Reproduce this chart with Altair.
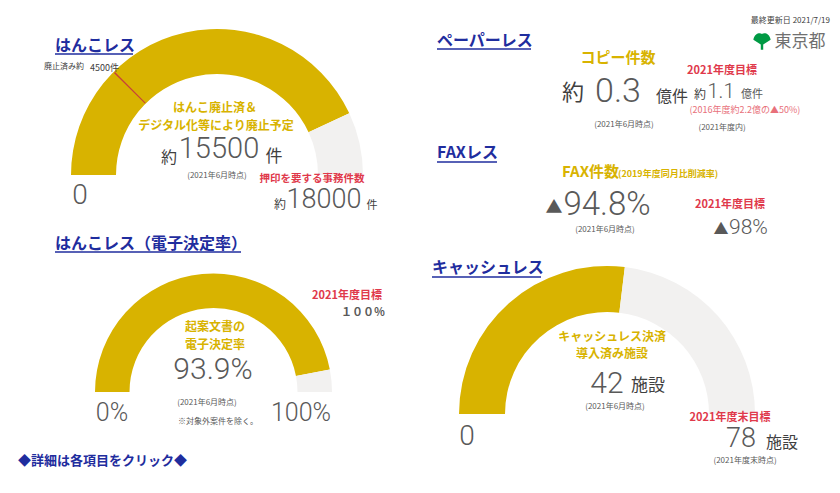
import math
import altair as alt
import pandas as pd

# ---------------- values ----------------
HANKO_VALUES = [15500, 18000]        # abolished+planned, total needing seals
HANKO_ABOLISHED = 4500
PAPER_COPIES = [0.3, 1.1]            # current, FY2021 target (億件)
PAPER_BASE_2016 = 2.2
PAPER_CUT = 50
FAX_REDUCTION = [94.8, 98]           # current, target (%)
E_DECISION = [93.9, 100]             # current, target (%)
CASHLESS = [42, 78]                  # current, target (facilities)
UPDATED = "2021/7/19"

# ---------------- style ----------------
GOLD = "#D8B300"
GREY = "#F2F1F0"
BLUE = "#1F2D9E"
RED = "#E0394B"
PINK = "#E8707A"
DARK = "#595959"
TXT = "#404040"
CJK = "Noto Sans CJK JP"
NUM = "Roboto"

xs = alt.Scale(domain=[8, 832], range=[0, 824])
ys = alt.Scale(domain=[8, 485], range=[0, 477])

layers = []

# ---------------- gauges ----------------
def gauge(value, vmax, cx, cy, ro, ri, marks=()):
    df = pd.DataFrame({
        "start": [0, value] + [m - vmax / 600 for m in marks],
        "end": [value, vmax] + [m + vmax / 600 for m in marks],
        "color": [GOLD, GREY] + ["#C8403A" for _ in marks],
        "cx": [cx] * (2 + len(marks)),
        "cy": [cy] * (2 + len(marks)),
    })
    return alt.Chart(df).mark_arc(radius=ro, radius2=ri).encode(
        x=alt.X("cx:Q", scale=xs, axis=None),
        y=alt.Y("cy:Q", scale=ys, axis=None),
        theta=alt.Theta("start:Q", scale=alt.Scale(domain=[0, vmax], range=[-math.pi / 2, math.pi / 2])),
        theta2="end:Q",
        color=alt.Color("color:N", scale=None),
        order=alt.Order("start:Q"),
    )

layers.append(gauge(HANKO_VALUES[0], HANKO_VALUES[1], 217, 175, 146, 101))
layers.append(gauge(E_DECISION[0], E_DECISION[1], 213.5, 392, 118.5, 84))
layers.append(gauge(CASHLESS[0], CASHLESS[1], 607, 414, 148, 102))
layers.append(gauge(HANKO_ABOLISHED, HANKO_VALUES[1], 217, 175, 145, 101.5, marks=[HANKO_ABOLISHED]).transform_filter("datum.color == '#C8403A'"))

# ---------------- underlines ----------------
ul = pd.DataFrame({
    "x": [55, 437, 437, 55, 432],
    "x2": [133, 531, 497, 241, 541],
    "y": [54, 49, 162, 252, 277],
})
layers.append(alt.Chart(ul).mark_rule(color=BLUE, strokeWidth=1.5).encode(
    x=alt.X("x:Q", scale=xs, axis=None), x2="x2:Q", y=alt.Y("y:Q", scale=ys, axis=None)))

# ---------------- logo leaf ----------------
leaf = pd.DataFrame({"x": [762], "y": [41]})
layers.append(alt.Chart(leaf).mark_point(
    shape="M-1,-0.15 C-0.85,-0.95 -0.2,-1 0,-0.8 C0.2,-1 0.85,-0.95 1,-0.15 L0.14,0.4 L0.14,1 L-0.14,1 L-0.14,0.4 Z",
    filled=True, color="#009A44", opacity=1, size=300).encode(
    x=alt.X("x:Q", scale=xs, axis=None), y=alt.Y("y:Q", scale=ys, axis=None)))

# ---------------- texts ----------------
T = []
def t(text, x, y, size, color=DARK, font=CJK, weight="normal", align="center"):
    T.append(dict(text=text, x=x, y=y, size=size, color=color, font=font, weight=weight, align=align))

# titles
t("はんこレス", 55, 46, 16, BLUE, weight="bold", align="left")
t("ペーパーレス", 437, 41, 16, BLUE, weight="bold", align="left")
t("FAXレス", 437, 153, 16, BLUE, weight="bold", align="left")
t("はんこレス（電子決定率）", 55, 244, 16, BLUE, weight="bold", align="left")
t("キャッシュレス", 432, 268, 16, BLUE, weight="bold", align="left")
t("◆詳細は各項目をクリック◆", 18, 461, 13, BLUE, weight="bold", align="left")

# header
t(f"最終更新日 {UPDATED}", 830, 21, 8, TXT, align="right")
t("東京都", 800, 42, 17, "#707070")

# hanko gauge
t("廃止済み約", 44, 67, 8, TXT, align="left")
t(f"{HANKO_ABOLISHED}件", 90, 68, 9, TXT, align="left")
t("はんこ廃止済＆", 215, 108, 12, GOLD, weight="bold")
t("デジタル化等により廃止予定", 216, 126, 12, GOLD, weight="bold")
t("約", 169, 158, 16, TXT)
t(f"{HANKO_VALUES[0]}", 219, 149, 29, DARK, font=NUM, weight=300)
t("件", 274, 157, 17, TXT)
t("(2021年6月時点)", 217, 176, 8, DARK)
t("0", 80, 196, 28, DARK, font=NUM, weight=300)
t("押印を要する事務件数", 312, 179, 10.5, RED, weight="bold")
t("約", 280, 205, 12, TXT)
t(f"{HANKO_VALUES[1]}", 324, 200, 27, DARK, font=NUM, weight=300)
t("件", 372, 206, 11, TXT)

# paperless
t("コピー件数", 618, 58, 15, GOLD, weight="bold")
t("約", 573, 93, 22, TXT)
t(f"{PAPER_COPIES[0]}", 618, 92, 34, DARK, font=NUM, weight=300)
t("億件", 672, 97, 16, TXT)
t("2021年度目標", 722, 71, 11, RED, weight="bold")
t("約", 700, 95, 12, TXT)
t(f"{PAPER_COPIES[1]}", 721, 92, 20, DARK, font=NUM, weight=300)
t("億件", 752, 95, 11, DARK)
t(f"(2016年度約{PAPER_BASE_2016}億の▲{PAPER_CUT}%)", 745, 110, 9, PINK)
t("(2021年6月時点)", 624, 125, 8, DARK)
t("(2021年度内)", 722, 128, 8, DARK)

# fax
t("FAX件数", 562, 172, 15, GOLD, weight="bold", align="left")
t("(2019年度同月比削減率)", 618, 174, 9, GOLD, weight="bold", align="left")
t("▲", 554, 208, 17, DARK)
t(f"{FAX_REDUCTION[0]}%", 607, 205, 33, DARK, font=NUM, weight=300)
t("(2021年6月時点)", 605, 230, 8, DARK)
t("2021年度目標", 730, 205, 11, RED, weight="bold")
t("▲", 721, 229, 15, DARK)
t(f"{FAX_REDUCTION[1]}%", 729, 228, 21, DARK, font=NUM, weight=300, align="left")

# e-decision gauge
t("2021年度目標", 347, 296, 11, RED, weight="bold")
t("１００％", 363, 313, 11, DARK, weight="bold")
t("起案文書の", 215, 327, 12, GOLD, weight="bold")
t("電子決定率", 215, 345, 12, GOLD, weight="bold")
t(f"{E_DECISION[0]}%", 213, 370, 30, DARK, font=NUM, weight=300)
t("(2021年6月時点)", 207, 403, 8, DARK)
t("※対象外案件を除く。", 218, 422, 8, DARK)
t("0%", 112, 413, 25, DARK, font=NUM, weight=300)
t(f"{E_DECISION[1]}%", 301, 413, 25, DARK, font=NUM, weight=300)

# cashless gauge
t("キャッシュレス決済", 612, 337, 12, GOLD, weight="bold")
t("導入済み施設", 612, 354, 12, GOLD, weight="bold")
t(f"{CASHLESS[0]}", 607, 384, 30, DARK, font=NUM, weight=300)
t("施設", 648, 386, 17, TXT)
t("(2021年6月時点)", 615, 407, 8, DARK)
t("2021年度末目標", 730, 418, 11, RED, weight="bold")
t(f"{CASHLESS[1]}", 741, 439, 27, DARK, font=NUM, weight=300)
t("施設", 782, 443, 16, TXT)
t("(2021年度末時点)", 745, 461, 8, DARK)
t("0", 467, 437, 28, DARK, font=NUM, weight=300)

tdf = pd.DataFrame(T)
for (font, weight, align), g in tdf.groupby(["font", "weight", "align"], sort=False):
    layers.append(alt.Chart(g.drop(columns=["font", "weight", "align"])).mark_text(
        font=font, fontWeight=weight, align=align, baseline="middle").encode(
        x=alt.X("x:Q", scale=xs, axis=None),
        y=alt.Y("y:Q", scale=ys, axis=None),
        text="text:N",
        size=alt.Size("size:Q", scale=None),
        color=alt.Color("color:N", scale=None),
    ))

chart = alt.layer(*layers).resolve_scale(theta="independent").properties(
    width=824, height=477, padding=0, autosize=alt.AutoSizeParams(type="none"),
    background="white",
).configure_view(strokeWidth=0)

chart.save("out.html", embed_options={"renderer": "svg", "actions": False})
